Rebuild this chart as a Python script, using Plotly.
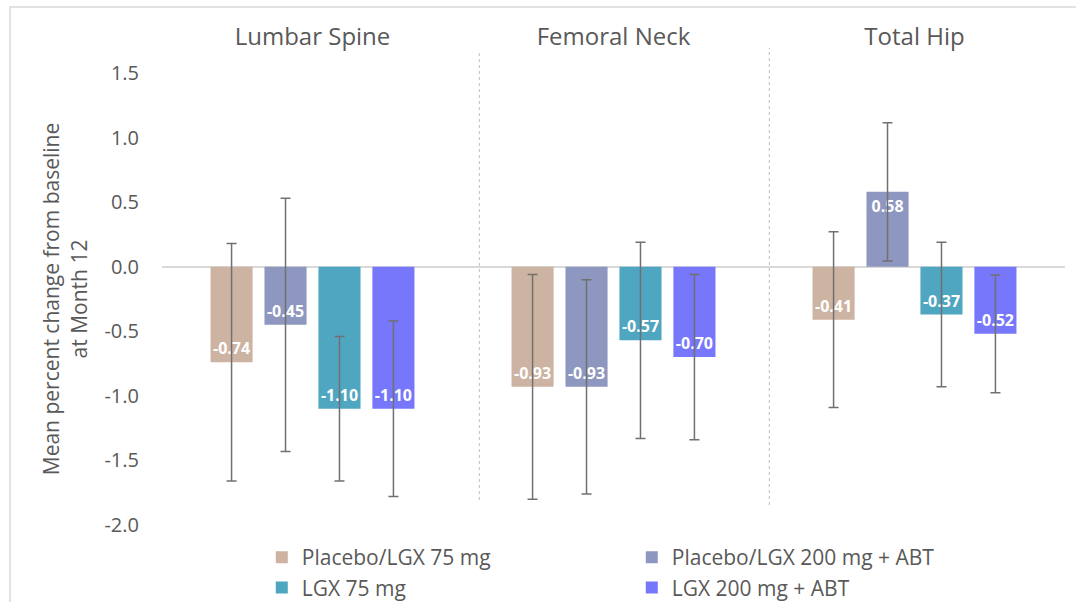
import plotly.graph_objects as go

# Skeletal sites (x categories)
sites = ["Lumbar Spine", "Femoral Neck", "Total Hip"]

# Treatment groups
groups = ["Placebo/LGX 75 mg", "Placebo/LGX 200 mg + ABT", "LGX 75 mg", "LGX 200 mg + ABT"]
colors = ["#CDB3A2", "#8E97BF", "#4FA6C1", "#7777FC"]

# Mean percent change from baseline at Month 12, per group (order of sites)
mean_change = [
    [-0.74, -0.93, -0.41],
    [-0.45, -0.93, 0.58],
    [-1.10, -0.57, -0.37],
    [-1.10, -0.70, -0.52],
]

# Half-width of the 95% CI for each mean
ci_half = [
    [0.92, 0.87, 0.68],
    [0.98, 0.83, 0.535],
    [0.56, 0.76, 0.56],
    [0.68, 0.64, 0.455],
]

y_ticks = [1.5, 1.0, 0.5, 0.0, -0.5, -1.0, -1.5, -2.0]

FONT = "Open Sans"
GREY = "#595959"

fig = go.Figure()
for name, col, vals, err in zip(groups, colors, mean_change, ci_half):
    fig.add_trace(go.Bar(
        name=name,
        x=sites,
        y=vals,
        marker=dict(color=col, line=dict(width=0)),
        error_y=dict(type="data", array=err, visible=True,
                     color="#707070", thickness=1.5, width=5),
        text=[f"{v:.2f}" for v in vals],
        textposition="inside",
        insidetextanchor="end",
        textangle=0,
        constraintext="none",
        textfont=dict(family=FONT, size=16, color="white", weight="bold"),
        hoverinfo="skip",
    ))

# Outer frame and dotted separators between sites
shapes = [
    dict(type="rect", xref="paper", yref="paper", x0=-0.1683, x1=1.3, y0=-0.5, y1=1.146,
         line=dict(color="#D9D9D9", width=1.5), fillcolor="rgba(0,0,0,0)", layer="below"),
    dict(type="line", xref="paper", yref="paper", x0=0.3514, x1=0.3514, y0=0.0553, y1=1.0442,
         line=dict(color="#BFBFBF", width=1, dash="dot")),
    dict(type="line", xref="paper", yref="paper", x0=0.6725, x1=0.6725, y0=0.0442, y1=1.0553,
         line=dict(color="#BFBFBF", width=1, dash="dot")),
]

fig.update_layout(
    width=1076, height=602,
    margin=dict(l=162, r=11, t=73, b=77, autoexpand=False),
    paper_bgcolor="white", plot_bgcolor="white",
    barmode="group", bargap=0.283, bargroupgap=0.22,
    font=dict(family=FONT, color=GREY),
    shapes=shapes,
    showlegend=True,
    legend=dict(
        orientation="h", x=0.1105, xanchor="left", y=-0.0266, yanchor="top",
        font=dict(family=FONT, size=21, color=GREY),
        entrywidth=325, entrywidthmode="pixels",
        tracegroupgap=0, bgcolor="rgba(0,0,0,0)",
    ),
    xaxis=dict(
        side="top", showgrid=False, showline=False, zeroline=False,
        ticks="", ticklabelstandoff=22,
        tickfont=dict(family=FONT, size=24, color=GREY),
        range=[-0.5, 2.5],
    ),
    yaxis=dict(
        range=[-2.0, 1.5], tickvals=y_ticks, ticktext=[f"{t:.1f}" for t in y_ticks],
        showgrid=False, showline=False, ticks="",
        zeroline=True, zerolinecolor="#D9D9D9", zerolinewidth=1.5,
        tickfont=dict(family=FONT, size=20, color=GREY),
        ticklabelstandoff=22,
        title=dict(text="Mean percent change from baseline<br>at Month 12",
                   font=dict(family=FONT, size=21, color=GREY), standoff=11),
    ),
)

fig.write_html("out.html")
